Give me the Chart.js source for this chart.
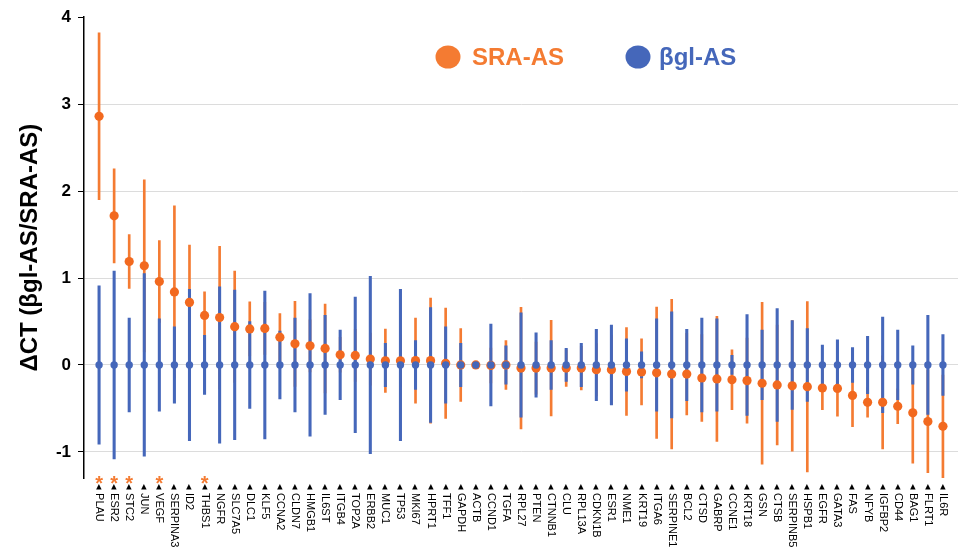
<!DOCTYPE html>
<html><head><meta charset="utf-8">
<script src="https://cdn.jsdelivr.net/npm/chart.js@4/dist/chart.umd.min.js"></script>
<style>html,body{margin:0;padding:0;background:#fff;}#wrap{width:958px;height:548px;}</style>
</head><body><div id="wrap"><canvas id="c" width="958" height="548"></canvas></div>
<script>
const genes = ['PLAU','ESR2','STC2','JUN','VEGF','SERPINA3','ID2','THBS1','NGFR','SLC7A5','DLC1','KLF5','CCNA2','CLDN7','HMGB1','IL6ST','ITGB4','TOP2A','ERBB2','MUC1','TP53','MKI67','HPRT1','TFF1','GAPDH','ACTB','CCND1','TGFA','RPL27','PTEN','CTNNB1','CLU','RPL13A','CDKN1B','ESR1','NME1','KRT19','ITGA6','SERPINE1','BCL2','CTSD','GABRP','CCNE1','KRT18','GSN','CTSB','SERPINB5','HSPB1','EGFR','GATA3','FAS','NFYB','IGFBP2','CD44','BAG1','FLRT1','IL6R'];
const sraMean = [2.86,1.715,1.19,1.14,0.96,0.84,0.72,0.57,0.545,0.44,0.415,0.42,0.32,0.243,0.22,0.19,0.117,0.11,0.068,0.048,0.048,0.05,0.05,0.02,0.0,0.0,-0.005,0.0,-0.036,-0.036,-0.036,-0.036,-0.036,-0.055,-0.055,-0.075,-0.08,-0.09,-0.105,-0.105,-0.15,-0.16,-0.17,-0.18,-0.21,-0.23,-0.24,-0.25,-0.265,-0.27,-0.35,-0.43,-0.43,-0.475,-0.55,-0.65,-0.705];
const sraErr = [0.96,0.54,0.31,0.99,0.47,0.99,0.66,0.27,0.82,0.64,0.31,0.3,0.27,0.49,0.3,0.51,0.2,0.3,0.3,0.365,0.3,0.49,0.72,0.635,0.42,0,0.2,0.28,0.7,0.3,0.55,0.21,0.25,0.3,0.4,0.505,0.38,0.755,0.86,0.47,0.5,0.72,0.345,0.49,0.93,0.69,0.75,0.98,0.25,0.32,0.36,0.17,0.535,0.2,0.58,0.59,0.59];
const bglMean = [0,0,0,0,0,0,0,0,0,0,0,0,0,0,0,0,0,0,0,0,0,0,0,0,0,0,0,0,0,0,0,0,0,0,0,0,0,0,0,0,0,0,0,0,0,0,0,0,0,0,0,0,0,0,0,0,0];
const bglErr = [0.91,1.08,0.54,1.05,0.53,0.44,0.87,0.34,0.9,0.86,0.5,0.85,0.39,0.54,0.82,0.57,0.4,0.78,1.02,0.25,0.87,0.28,0.66,0.44,0.25,0,0.47,0.22,0.6,0.37,0.28,0.19,0.25,0.41,0.46,0.3,0.15,0.53,0.61,0.41,0.54,0.53,0.11,0.58,0.4,0.65,0.51,0.42,0.23,0.29,0.2,0.33,0.55,0.4,0.22,0.57,0.35];
const significant = ['PLAU','ESR2','STC2','VEGF','THBS1'];
const yTicks = [-1,0,1,2,3,4];
const seriesNames = ['SRA-AS','βgl-AS'];
const yTitle = 'ΔCT (βgl-AS/SRA-AS)';

const ORANGE = '#F2691F', ORANGE_BAR = '#F47B32', BLUE = '#4567BA';
const FONT = '"Liberation Sans", Arial, Helvetica, sans-serif';
Chart.defaults.font.family = FONT;

const slots = [''].concat(genes, ['']);
const pad = v => [null].concat(v, [null]);
const sraRange = sraMean.map((m, i) => [m - sraErr[i], m + sraErr[i]]);
const bglRange = bglMean.map((m, i) => [m - bglErr[i], m + bglErr[i]]);

const overlay = {
  id: 'overlay',
  afterDraw(chart) {
    const ctx = chart.ctx, xs = chart.scales.x;
    ctx.save();
    genes.forEach((g, i) => {
      const x = xs.getPixelForValue(i + 1);
      ctx.save();
      ctx.translate(x, 484);
      ctx.rotate(Math.PI / 2);
      ctx.font = '11px ' + FONT;
      ctx.fillStyle = '#000';
      ctx.textAlign = 'left';
      ctx.textBaseline = 'middle';
      ctx.fillText('\u25C2 ' + g, 0, 0);
      ctx.restore();
      if (significant.includes(g)) {
        ctx.font = 'bold 20px ' + FONT;
        ctx.fillStyle = ORANGE_BAR;
        ctx.textAlign = 'center';
        ctx.textBaseline = 'alphabetic';
        ctx.fillText('*', x, 490);
      }
    });
    const items = [
      {cx: 448, tx: 472, color: ORANGE_BAR, text: seriesNames[0]},
      {cx: 638, tx: 659, color: BLUE, text: seriesNames[1]}
    ];
    items.forEach(it => {
      ctx.fillStyle = it.color;
      ctx.beginPath();
      ctx.ellipse(it.cx, 57, 12.5, 11.5, 0, 0, Math.PI * 2);
      ctx.fill();
      ctx.font = 'bold 24px ' + FONT;
      ctx.textAlign = 'left';
      ctx.textBaseline = 'middle';
      ctx.fillText(it.text, it.tx, 58);
    });
    ctx.restore();
  }
};

new Chart(document.getElementById('c'), {
  type: 'bar',
  data: {
    labels: slots,
    datasets: [
      {type: 'bar', label: seriesNames[0] + ' range', data: pad(sraRange), backgroundColor: ORANGE_BAR, borderWidth: 0, barThickness: 2, grouped: false, order: 4},
      {type: 'bar', label: seriesNames[1] + ' range', data: pad(bglRange), backgroundColor: BLUE, borderWidth: 0, barThickness: 2.4, grouped: false, order: 3},
      {type: 'line', label: seriesNames[0], data: pad(sraMean), showLine: false, pointRadius: 4.6, pointBackgroundColor: ORANGE, pointBorderWidth: 0, order: 2, clip: false},
      {type: 'line', label: seriesNames[1], data: pad(bglMean), showLine: false, pointRadius: 3.7, pointBackgroundColor: BLUE, pointBorderWidth: 0, order: 1, clip: false}
    ]
  },
  options: {
    responsive: false,
    animation: false,
    layout: {autoPadding: false, padding: {top: 17, left: 0, right: -2, bottom: 0}},
    plugins: {legend: {display: false}, tooltip: {enabled: false}},
    scales: {
      x: {
        type: 'category', offset: false,
        grid: {display: false}, border: {display: false},
        ticks: {display: false},
        afterFit(s) { s.height = 70; }
      },
      y: {
        min: -1.3, max: 4,
        afterBuildTicks(s) { s.ticks = yTicks.map(v => ({value: v})); },
        ticks: {font: {size: 17, weight: 'bold'}, color: '#000', padding: 7},
        grid: {
          color: ctx => (ctx.tick && ctx.tick.value === 4) ? 'rgba(0,0,0,0)' : '#dcdcdc',
          tickColor: '#000', tickLength: 6, drawTicks: true, lineWidth: 1
        },
        border: {color: '#000', width: 1.5},
        title: {display: true, text: yTitle, color: '#000', font: {size: 24, weight: 'bold'}, padding: {top: 16, bottom: 0}},
        afterFit(s) { s.width = 84; }
      }
    }
  },
  plugins: [overlay]
});
</script>
</body></html>
